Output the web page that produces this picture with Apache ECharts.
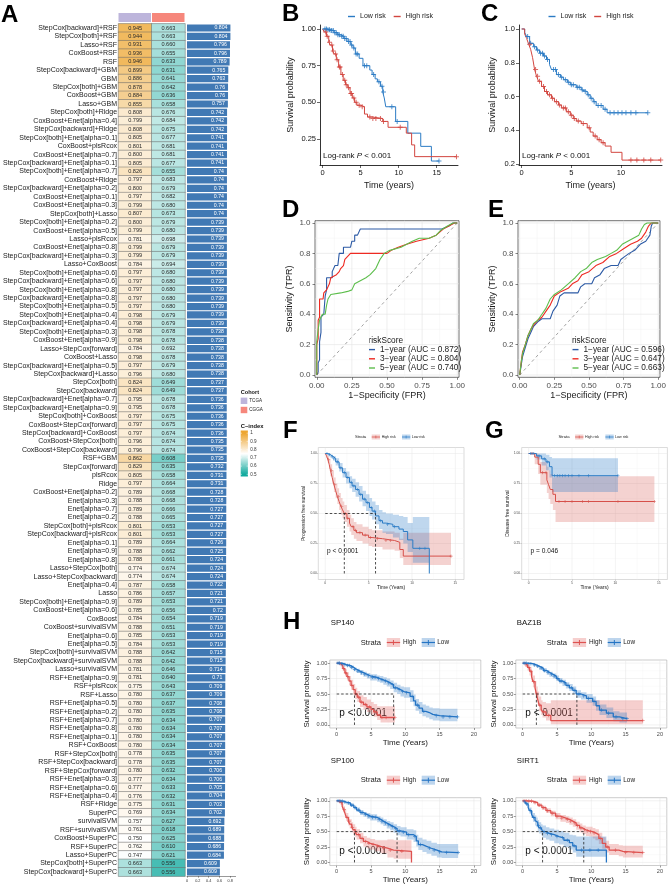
<!DOCTYPE html>
<html><head><meta charset="utf-8">
<script src="https://cdn.jsdelivr.net/npm/echarts@6/dist/echarts.min.js"></script>
<style>html,body{margin:0;padding:0;background:#fff}#c{width:669px;height:885px}</style>
</head><body><div id="c"></div>
<script>
// ---------------- DATA ----------------
const methods = ['StepCox[backward]+RSF','StepCox[both]+RSF','Lasso+RSF','CoxBoost+RSF','RSF','StepCox[backward]+GBM','GBM','StepCox[both]+GBM','CoxBoost+GBM','Lasso+GBM',
'StepCox[both]+Ridge','CoxBoost+Enet[alpha=0.4]','StepCox[backward]+Ridge','StepCox[both]+Enet[alpha=0.1]','CoxBoost+plsRcox','CoxBoost+Enet[alpha=0.7]','StepCox[backward]+Enet[alpha=0.1]','StepCox[both]+Enet[alpha=0.7]','CoxBoost+Ridge','StepCox[backward]+Enet[alpha=0.2]',
'CoxBoost+Enet[alpha=0.1]','CoxBoost+Enet[alpha=0.3]','StepCox[both]+Lasso','StepCox[both]+Enet[alpha=0.2]','CoxBoost+Enet[alpha=0.5]','Lasso+plsRcox','CoxBoost+Enet[alpha=0.8]','StepCox[backward]+Enet[alpha=0.3]','Lasso+CoxBoost','StepCox[both]+Enet[alpha=0.6]',
'StepCox[backward]+Enet[alpha=0.6]','StepCox[both]+Enet[alpha=0.8]','StepCox[backward]+Enet[alpha=0.8]','StepCox[both]+Enet[alpha=0.5]','StepCox[both]+Enet[alpha=0.4]','StepCox[backward]+Enet[alpha=0.4]','StepCox[both]+Enet[alpha=0.3]','CoxBoost+Enet[alpha=0.9]','Lasso+StepCox[forward]','CoxBoost+Lasso',
'StepCox[backward]+Enet[alpha=0.5]','StepCox[backward]+Lasso','StepCox[both]','StepCox[backward]','StepCox[backward]+Enet[alpha=0.7]','StepCox[backward]+Enet[alpha=0.9]','StepCox[both]+CoxBoost','CoxBoost+StepCox[forward]','StepCox[backward]+CoxBoost','CoxBoost+StepCox[both]',
'CoxBoost+StepCox[backward]','RSF+GBM','StepCox[forward]','plsRcox','Ridge','CoxBoost+Enet[alpha=0.2]','Enet[alpha=0.3]','Enet[alpha=0.7]','Enet[alpha=0.2]','StepCox[both]+plsRcox',
'StepCox[backward]+plsRcox','Enet[alpha=0.1]','Enet[alpha=0.9]','Enet[alpha=0.8]','Lasso+StepCox[both]','Lasso+StepCox[backward]','Enet[alpha=0.4]','Lasso','StepCox[both]+Enet[alpha=0.9]','CoxBoost+Enet[alpha=0.6]',
'CoxBoost','CoxBoost+survivalSVM','Enet[alpha=0.6]','Enet[alpha=0.5]','StepCox[both]+survivalSVM','StepCox[backward]+survivalSVM','Lasso+survivalSVM','RSF+Enet[alpha=0.9]','RSF+plsRcox','RSF+Lasso',
'RSF+Enet[alpha=0.5]','RSF+Enet[alpha=0.2]','RSF+Enet[alpha=0.7]','RSF+Enet[alpha=0.8]','RSF+Enet[alpha=0.1]','RSF+CoxBoost','RSF+StepCox[both]','RSF+StepCox[backward]','RSF+StepCox[forward]','RSF+Enet[alpha=0.3]',
'RSF+Enet[alpha=0.6]','RSF+Enet[alpha=0.4]','RSF+Ridge','SuperPC','survivalSVM','RSF+survivalSVM','CoxBoost+SuperPC','RSF+SuperPC','Lasso+SuperPC','StepCox[both]+SuperPC',
'StepCox[backward]+SuperPC'];
const tcga = [0.945,0.944,0.931,0.936,0.946,0.899,0.886,0.878,0.884,0.855,
0.808,0.799,0.808,0.805,0.801,0.800,0.805,0.826,0.797,0.800,
0.797,0.799,0.807,0.800,0.799,0.781,0.799,0.799,0.784,0.797,
0.797,0.797,0.797,0.797,0.798,0.798,0.798,0.798,0.784,0.798,
0.797,0.796,0.824,0.824,0.795,0.795,0.797,0.797,0.797,0.796,
0.796,0.862,0.829,0.805,0.797,0.789,0.788,0.789,0.788,0.801,
0.801,0.789,0.788,0.788,0.774,0.774,0.787,0.786,0.789,0.785,
0.784,0.788,0.785,0.784,0.788,0.788,0.781,0.781,0.775,0.780,
0.780,0.780,0.780,0.780,0.780,0.780,0.778,0.778,0.780,0.777,
0.777,0.776,0.775,0.769,0.757,0.761,0.750,0.762,0.747,0.663,
0.663];
const cgga = [0.663,0.663,0.660,0.655,0.633,0.631,0.641,0.642,0.636,0.658,
0.676,0.684,0.675,0.677,0.681,0.681,0.677,0.655,0.683,0.679,
0.682,0.680,0.673,0.679,0.680,0.698,0.679,0.679,0.694,0.680,
0.680,0.680,0.680,0.680,0.679,0.679,0.678,0.678,0.692,0.678,
0.679,0.680,0.649,0.649,0.678,0.678,0.675,0.675,0.674,0.674,
0.674,0.608,0.635,0.658,0.664,0.668,0.668,0.666,0.665,0.653,
0.653,0.664,0.662,0.661,0.674,0.674,0.658,0.657,0.653,0.656,
0.654,0.651,0.653,0.653,0.642,0.642,0.646,0.640,0.643,0.637,
0.637,0.635,0.634,0.634,0.634,0.634,0.635,0.635,0.632,0.634,
0.633,0.632,0.631,0.634,0.627,0.618,0.625,0.610,0.621,0.556,
0.556];
const meanC = [0.804,0.804,0.796,0.796,0.789,0.765,0.763,0.76,0.76,0.757,
0.742,0.742,0.742,0.741,0.741,0.741,0.741,0.74,0.74,0.74,
0.74,0.74,0.74,0.739,0.739,0.739,0.739,0.739,0.739,0.739,
0.739,0.739,0.739,0.739,0.739,0.739,0.738,0.738,0.738,0.738,
0.738,0.738,0.737,0.737,0.736,0.736,0.736,0.736,0.736,0.735,
0.735,0.735,0.732,0.731,0.731,0.728,0.728,0.727,0.727,0.727,
0.727,0.726,0.725,0.724,0.724,0.724,0.722,0.721,0.721,0.72,
0.719,0.719,0.719,0.719,0.715,0.715,0.714,0.71,0.709,0.709,
0.708,0.708,0.707,0.707,0.707,0.707,0.707,0.707,0.706,0.706,
0.705,0.704,0.703,0.702,0.692,0.689,0.688,0.686,0.684,0.609,
0.609];
const cohorts = ['TCGA','CGGA'];
const cIndexTicks = [1,0.9,0.8,0.7,0.6,0.5];

// Panel B (TCGA KM)
const bLow = [[0,1],[0.6,0.995],[1.0,0.99],[1.5,0.975],[2.0,0.96],[2.4,0.95],[2.8,0.935],[3.2,0.915],[3.7,0.89],[4.0,0.87],[4.3,0.83],[4.8,0.80],[5.3,0.75],[6.2,0.72],[6.5,0.69],[6.9,0.66],[7.2,0.64],[7.6,0.61],[7.9,0.57],[8.1,0.53],[8.3,0.47],[9.6,0.37],[11.2,0.29],[12.9,0.20],[14.3,0.10],[15.3,0.10]];
const bHigh = [[0,1],[0.2,0.98],[0.5,0.95],[0.8,0.91],[1.0,0.89],[1.3,0.85],[1.5,0.83],[1.8,0.79],[2.1,0.74],[2.4,0.69],[2.7,0.65],[3.0,0.62],[3.3,0.60],[3.6,0.56],[3.9,0.53],[4.2,0.50],[4.5,0.48],[5.0,0.47],[5.5,0.42],[5.9,0.40],[6.5,0.39],[7.9,0.37],[8.6,0.33],[11.0,0.29],[11.7,0.21],[12.1,0.13],[17.6,0.13]];
const bLowCens = [0.3,0.5,0.7,0.9,1.1,1.2,1.4,1.6,1.8,2.0,2.2,2.5,2.7,2.9,3.1,3.4,3.6,3.8,4.1,4.4,4.6,5.5,5.8,6.7,7.4,7.8,8.0,9.1,9.8,15.3];
const bHighCens = [0.4,0.6,0.9,1.2,1.4,1.7,1.9,2.2,2.3,2.6,2.9,3.1,3.4,3.7,3.8,4.1,4.4,4.8,5.2,6.2,6.6,7.0,7.6,8.0,10.2,17.6];
// Panel C (CGGA KM)
const cLow = [[0,1],[0.3,0.98],[0.5,0.955],[0.8,0.915],[1.2,0.895],[1.5,0.875],[1.8,0.857],[2.2,0.84],[2.5,0.82],[2.8,0.79],[3.0,0.76],[3.5,0.73],[3.9,0.715],[4.2,0.70],[4.6,0.685],[4.9,0.67],[5.5,0.655],[6.0,0.64],[6.2,0.63],[6.6,0.61],[6.9,0.59],[7.2,0.57],[7.5,0.547],[8.2,0.525],[8.6,0.504],[12.7,0.504]];
const cHigh = [[0,1],[0.3,0.97],[0.5,0.944],[0.7,0.91],[0.9,0.88],[1.1,0.83],[1.3,0.76],[1.5,0.72],[1.7,0.69],[2.0,0.66],[2.3,0.63],[2.6,0.61],[3.0,0.59],[3.3,0.57],[3.7,0.55],[4.0,0.533],[4.5,0.51],[4.9,0.49],[5.2,0.47],[5.5,0.455],[6.0,0.44],[6.6,0.415],[6.9,0.39],[7.2,0.366],[7.6,0.345],[8.0,0.327],[8.4,0.307],[9.0,0.27],[10.1,0.224],[14.0,0.224]];
const cLowCens = [0.6,0.9,1.3,1.6,1.9,2.1,2.3,2.6,3.2,3.4,3.7,4.0,4.4,4.7,5.0,5.2,5.6,5.8,6.1,6.4,6.7,7.0,7.3,7.7,8.0,8.4,8.9,9.3,9.7,10.1,10.5,11.0,11.5,12.7];
const cHighCens = [0.8,1.4,1.6,1.8,2.2,2.5,2.8,3.1,3.5,3.8,4.2,4.4,4.7,5.0,5.3,5.7,6.2,6.8,7.4,7.8,8.2,11.0,11.6,12.3,13.0,14.0];
const kmTicksB = [0,5,10,15], survTicksB = [0.25,0.5,0.75,1];
const kmTicksC = [0,5,10], survTicksC = [0.2,0.4,0.6,0.8,1];

// Panels D, E (ROC)
const rocNamesD = ['1\u2212year (AUC = 0.872)','3\u2212year (AUC = 0.804)','5\u2212year (AUC = 0.740)'];
const rocNamesE = ['1\u2212year (AUC = 0.596)','3\u2212year (AUC = 0.647)','5\u2212year (AUC = 0.663)'];
const d1 = [[0,0],[0.01,0.02],[0.01,0.08],[0.02,0.10],[0.02,0.22],[0.03,0.28],[0.03,0.38],[0.05,0.40],[0.06,0.40],[0.06,0.52],[0.07,0.56],[0.07,0.64],[0.11,0.64],[0.11,0.68],[0.13,0.72],[0.15,0.72],[0.16,0.80],[0.19,0.80],[0.19,0.84],[0.24,0.84],[0.25,0.88],[0.27,0.88],[0.27,0.92],[0.29,0.92],[0.31,0.96],[0.89,0.96],[0.94,0.98],[0.97,1],[1,1]];
const d3 = [[0,0],[0,0.2],[0.01,0.24],[0.01,0.36],[0.02,0.38],[0.02,0.50],[0.045,0.50],[0.05,0.54],[0.07,0.56],[0.09,0.60],[0.10,0.64],[0.14,0.66],[0.16,0.68],[0.17,0.70],[0.19,0.72],[0.20,0.76],[0.22,0.78],[0.24,0.80],[0.50,0.80],[0.53,0.82],[0.58,0.84],[0.64,0.86],[0.71,0.88],[0.80,0.90],[0.85,0.92],[0.90,0.96],[0.94,0.98],[0.98,1],[1,1]];
const d5 = [[0,0],[0,0.22],[0.01,0.30],[0.02,0.36],[0.04,0.40],[0.06,0.40],[0.07,0.46],[0.08,0.50],[0.10,0.53],[0.17,0.54],[0.22,0.55],[0.25,0.56],[0.27,0.60],[0.31,0.62],[0.35,0.64],[0.38,0.66],[0.42,0.70],[0.45,0.76],[0.48,0.80],[0.52,0.82],[0.60,0.84],[0.64,0.86],[0.68,0.88],[0.73,0.90],[0.80,0.90],[0.85,0.92],[0.88,0.95],[0.93,0.98],[0.97,1],[1,1]];
const e1 = [[0,0],[0.01,0.06],[0.02,0.12],[0.04,0.18],[0.06,0.24],[0.08,0.28],[0.10,0.32],[0.13,0.35],[0.16,0.37],[0.22,0.37],[0.24,0.42],[0.27,0.46],[0.29,0.52],[0.32,0.54],[0.42,0.54],[0.44,0.58],[0.47,0.60],[0.52,0.60],[0.54,0.64],[0.58,0.66],[0.61,0.70],[0.66,0.72],[0.71,0.72],[0.73,0.76],[0.76,0.78],[0.79,0.80],[0.83,0.82],[0.87,0.86],[0.91,0.88],[0.94,0.92],[0.95,0.98],[0.96,1],[1,1]];
const e3 = [[0,0],[0.01,0.08],[0.02,0.15],[0.04,0.2],[0.06,0.26],[0.08,0.30],[0.10,0.33],[0.13,0.36],[0.16,0.38],[0.19,0.42],[0.22,0.46],[0.25,0.52],[0.30,0.55],[0.35,0.57],[0.38,0.60],[0.42,0.62],[0.45,0.66],[0.50,0.68],[0.55,0.72],[0.60,0.74],[0.65,0.78],[0.70,0.80],[0.75,0.83],[0.80,0.86],[0.85,0.88],[0.88,0.90],[0.91,0.94],[0.93,0.98],[0.95,1],[1,1]];
const e5 = [[0,0],[0.01,0.08],[0.02,0.14],[0.04,0.2],[0.06,0.26],[0.08,0.30],[0.10,0.34],[0.13,0.36],[0.16,0.40],[0.19,0.44],[0.22,0.50],[0.25,0.53],[0.30,0.56],[0.35,0.60],[0.40,0.64],[0.44,0.68],[0.48,0.70],[0.52,0.74],[0.56,0.76],[0.62,0.78],[0.66,0.80],[0.70,0.82],[0.74,0.86],[0.78,0.88],[0.82,0.90],[0.86,0.92],[0.88,0.96],[0.90,0.99],[0.92,1],[1,1]];
const rocTicksX = [0,0.25,0.5,0.75,1], rocTicksY = [0,0.2,0.4,0.6,0.8,1];

// Panel F (PFS) and G (DFS): [t, s] and CI [t, lower, upper]
const fHigh = [[0,1],[0.15,0.98],[0.3,0.95],[0.45,0.91],[0.6,0.86],[0.8,0.80],[1.0,0.74],[1.2,0.69],[1.4,0.64],[1.6,0.60],[1.8,0.56],[2.0,0.53],[2.2,0.50],[2.5,0.46],[2.8,0.42],[3.0,0.39],[3.3,0.36],[3.6,0.34],[4.3,0.32],[5.0,0.30],[5.4,0.29],[6.6,0.275],[8.0,0.26],[8.6,0.20],[9.0,0.145],[14.5,0.145]];
const fHighCI = [[0,1,1],[0.15,0.96,1],[0.3,0.92,0.98],[0.45,0.87,0.95],[0.6,0.81,0.91],[0.8,0.75,0.86],[1.0,0.68,0.80],[1.2,0.63,0.75],[1.4,0.58,0.71],[1.6,0.53,0.67],[1.8,0.49,0.63],[2.0,0.46,0.60],[2.2,0.43,0.57],[2.5,0.39,0.53],[2.8,0.35,0.49],[3.0,0.32,0.46],[3.3,0.29,0.43],[3.6,0.27,0.41],[4.3,0.25,0.39],[5.0,0.23,0.37],[5.4,0.22,0.36],[6.6,0.20,0.35],[8.0,0.19,0.34],[8.6,0.13,0.29],[9.0,0.07,0.34],[14.5,0.07,0.34]];
const fLow = [[0,1],[0.3,0.99],[0.6,0.975],[0.9,0.96],[1.2,0.93],[1.6,0.88],[2.0,0.84],[2.4,0.80],[2.8,0.76],[3.1,0.73],[3.5,0.70],[3.9,0.66],[4.3,0.62],[4.7,0.59],[5.1,0.55],[5.4,0.52],[5.8,0.48],[6.2,0.44],[6.6,0.42],[7.0,0.41],[7.8,0.39],[8.5,0.37],[9.0,0.35],[9.5,0.28],[10.1,0.21],[12.0,0.0]];
const fLowCI = [[0,1,1],[0.3,0.98,1],[0.6,0.96,0.99],[0.9,0.94,0.98],[1.2,0.90,0.96],[1.6,0.85,0.92],[2.0,0.80,0.88],[2.4,0.75,0.85],[2.8,0.71,0.81],[3.1,0.68,0.79],[3.5,0.64,0.76],[3.9,0.60,0.73],[4.3,0.56,0.69],[4.7,0.52,0.66],[5.1,0.48,0.63],[5.4,0.45,0.60],[5.8,0.41,0.57],[6.2,0.37,0.53],[6.6,0.34,0.51],[7.0,0.33,0.50],[7.8,0.30,0.49],[8.5,0.28,0.48],[9.0,0.25,0.47],[9.5,0.18,0.42],[10.1,0.09,0.47],[12.0,0.09,0.47]];
const fHighCens = [0.4,0.7,1.1,1.5,1.9,2.3,2.6,3.2,3.5,4.0,4.6,5.2,6.0,7.0,7.5,14.5];
const fLowCens = [0.2,0.5,0.8,1.0,1.4,1.8,2.2,2.6,3.0,3.3,3.7,4.1,4.5,4.9,5.3,5.7,6.4,7.2,8.0,10.9,11.5];
const fMed = [2.2,5.8];
const gHigh = [[0,1],[0.7,0.97],[1.1,0.91],[1.35,0.84],[2.1,0.78],[2.3,0.74],[2.5,0.70],[2.8,0.66],[3.1,0.60],[14.5,0.60]];
const gHighCI = [[0,1,1],[0.7,0.91,1],[1.1,0.83,0.98],[1.35,0.74,0.93],[2.1,0.67,0.89],[2.3,0.62,0.86],[2.5,0.58,0.83],[2.8,0.53,0.80],[3.1,0.43,0.81],[14.5,0.43,0.81]];
const gLow = [[0,1],[0.9,0.98],[1.5,0.955],[2.0,0.93],[2.4,0.89],[2.7,0.815],[10.3,0.815]];
const gLowCI = [[0,1,1],[0.9,0.95,1],[1.5,0.90,1],[2.0,0.86,0.99],[2.4,0.80,0.97],[2.7,0.68,0.96],[10.3,0.68,0.96]];
const gHighCens = [0.3,0.5,1.6,2.0,3.5,4.2,5.0,6.2,6.9,10.3,14.5];
const gLowCens = [0.2,0.4,0.6,1.2,1.8,2.2,3.0,3.3,3.6,3.9,4.2,4.6,5.0,5.8,6.9,10.3];
const fgTicksX = [0,5,10,15], fgTicksY = [0,0.25,0.5,0.75,1];

// Panel H (genes)
const sp140High = [[0,1],[0.3,0.99],[0.6,0.96],[0.9,0.91],[1.2,0.84],[1.5,0.78],[1.8,0.71],[2.1,0.64],[2.4,0.57],[2.7,0.50],[3.0,0.45],[3.4,0.37],[3.9,0.33],[4.4,0.29],[5.0,0.25],[5.4,0.21],[5.9,0.16],[6.4,0.12],[8.5,0.12]];
const sp140HighCI = [[0,1,1],[0.3,0.97,1],[0.6,0.93,0.99],[0.9,0.87,0.95],[1.2,0.79,0.90],[1.5,0.72,0.85],[1.8,0.64,0.79],[2.1,0.57,0.73],[2.4,0.49,0.66],[2.7,0.42,0.60],[3.0,0.37,0.55],[3.4,0.29,0.48],[3.9,0.25,0.45],[4.4,0.21,0.41],[5.0,0.17,0.37],[5.4,0.13,0.34],[5.9,0.08,0.30],[6.4,0.04,0.30],[8.5,0.04,0.30]];
const sp140Low = [[0,1],[0.5,0.99],[1.0,0.975],[1.4,0.96],[2.0,0.93],[2.5,0.90],[2.9,0.87],[3.4,0.845],[3.9,0.82],[4.4,0.795],[4.9,0.77],[5.9,0.75],[6.3,0.73],[6.8,0.71],[7.3,0.68],[7.8,0.65],[8.3,0.60],[8.8,0.57],[9.3,0.54],[9.8,0.52],[10.7,0.46],[11.2,0.39],[11.5,0.32],[12.0,0.27],[12.5,0.22],[13.0,0.20],[13.5,0.17],[14.0,0.15],[15.0,0.13],[17.6,0.13]];
const sp140LowCI = [[0,1,1],[0.5,0.98,1],[1.0,0.96,0.99],[1.4,0.94,0.98],[2.0,0.91,0.96],[2.5,0.87,0.93],[2.9,0.84,0.91],[3.4,0.81,0.89],[3.9,0.78,0.86],[4.4,0.75,0.84],[4.9,0.72,0.82],[5.9,0.70,0.80],[6.3,0.68,0.79],[6.8,0.65,0.77],[7.3,0.62,0.75],[7.8,0.58,0.72],[8.3,0.53,0.68],[8.8,0.50,0.65],[9.3,0.46,0.62],[9.8,0.44,0.61],[10.7,0.37,0.56],[11.2,0.30,0.49],[11.5,0.23,0.42],[12.0,0.18,0.37],[12.5,0.14,0.33],[13.0,0.12,0.31],[13.5,0.09,0.28],[14.0,0.07,0.27],[15.0,0.06,0.26],[17.6,0.06,0.26]];
const sp140HighCens = [0.5,1.0,1.3,1.6,2.2,2.8,3.2,3.6,4.2,4.8,5.6,6.6,7.2,8.5];
const sp140LowCens = [0.2,0.4,0.7,0.9,1.2,1.6,1.9,2.2,2.6,3.1,3.6,4.1,4.6,5.2,5.6,6.1,6.6,7.1,7.6,8.1,8.6,9.1,9.6,10.2,11.0,11.8,12.7,14.5,15.5,16.5,17.6];
const sp140Med = [2.6,8.3];

const bazHigh = [[0,1],[0.4,0.97],[0.7,0.93],[1.0,0.87],[1.3,0.78],[1.5,0.70],[1.8,0.60],[2.0,0.50],[2.2,0.41],[2.4,0.32],[2.7,0.25],[2.9,0.21],[3.4,0.155],[4.1,0.07],[17.5,0.07]];
const bazHighCI = [[0,1,1],[0.4,0.94,1],[0.7,0.88,0.98],[1.0,0.80,0.94],[1.3,0.70,0.87],[1.5,0.61,0.80],[1.8,0.50,0.71],[2.0,0.40,0.62],[2.2,0.31,0.54],[2.4,0.22,0.46],[2.7,0.16,0.40],[2.9,0.12,0.37],[3.4,0.07,0.35],[4.1,0.01,0.40],[17.5,0.01,0.40]];
const bazLow = [[0,1],[0.7,0.99],[1.5,0.97],[2.0,0.95],[2.4,0.92],[3.0,0.88],[3.5,0.85],[3.9,0.82],[4.4,0.79],[4.9,0.75],[5.3,0.71],[5.8,0.68],[6.3,0.64],[6.8,0.60],[7.3,0.56],[7.8,0.50],[8.5,0.47],[9.3,0.43],[10.2,0.38],[10.7,0.31],[11.2,0.24],[12.2,0.19],[13.2,0.13],[14.1,0.10],[15.2,0.10]];
const bazLowCI = [[0,1,1],[0.7,0.98,1],[1.5,0.95,0.99],[2.0,0.93,0.97],[2.4,0.89,0.95],[3.0,0.85,0.92],[3.5,0.81,0.89],[3.9,0.78,0.86],[4.4,0.75,0.83],[4.9,0.71,0.80],[5.3,0.67,0.76],[5.8,0.63,0.73],[6.3,0.59,0.69],[6.8,0.55,0.66],[7.3,0.50,0.62],[7.8,0.44,0.56],[8.5,0.41,0.53],[9.3,0.36,0.50],[10.2,0.31,0.46],[10.7,0.23,0.40],[11.2,0.16,0.33],[12.2,0.11,0.28],[13.2,0.06,0.22],[14.1,0.04,0.20],[15.2,0.04,0.20]];
const bazHighCens = [0.5,0.9,1.2,1.6,2.1,2.5,3.1,3.8,17.5];
const bazLowCens = [0.2,0.5,0.9,1.2,1.7,2.2,2.7,3.2,3.7,4.2,4.6,5.1,5.6,6.1,6.6,7.1,7.6,8.2,8.9,9.6,10.4,11.5,12.5,13.6,14.6,15.2];
const bazMed = [2.0,7.9];

const sp100High = [[0,1],[0.3,0.99],[0.5,0.97],[0.8,0.91],[1.0,0.86],[1.2,0.80],[1.4,0.73],[1.7,0.67],[1.9,0.62],[2.2,0.57],[2.4,0.53],[2.7,0.49],[2.9,0.45],[3.4,0.39],[3.9,0.34],[4.4,0.31],[4.9,0.29],[5.6,0.26],[6.4,0.23],[7.4,0.20],[8.3,0.18],[10.9,0.0]];
const sp100HighCI = [[0,1,1],[0.3,0.97,1],[0.5,0.94,0.99],[0.8,0.87,0.95],[1.0,0.81,0.91],[1.2,0.74,0.86],[1.4,0.67,0.80],[1.7,0.60,0.74],[1.9,0.55,0.70],[2.2,0.49,0.65],[2.4,0.45,0.62],[2.7,0.41,0.58],[2.9,0.37,0.54],[3.4,0.31,0.48],[3.9,0.26,0.43],[4.4,0.23,0.40],[4.9,0.21,0.38],[5.6,0.18,0.36],[6.4,0.15,0.36],[7.4,0.08,0.37],[8.3,0.06,0.36],[10.9,0.06,0.36]];
const sp100Low = [[0,1],[0.5,0.995],[1.0,0.98],[1.4,0.965],[2.0,0.93],[2.5,0.89],[2.9,0.85],[3.4,0.81],[3.9,0.78],[4.4,0.75],[4.9,0.73],[5.9,0.70],[6.4,0.67],[6.8,0.64],[7.3,0.61],[7.8,0.58],[8.3,0.55],[8.8,0.51],[9.3,0.49],[10.2,0.45],[11.2,0.42],[11.6,0.35],[11.9,0.29],[12.5,0.26],[13.1,0.23],[13.8,0.20],[14.6,0.17],[15.3,0.16],[17.7,0.16]];
const sp100LowCI = [[0,1,1],[0.5,0.98,1],[1.0,0.96,0.99],[1.4,0.94,0.98],[2.0,0.90,0.96],[2.5,0.86,0.92],[2.9,0.82,0.89],[3.4,0.77,0.85],[3.9,0.74,0.82],[4.4,0.71,0.80],[4.9,0.68,0.78],[5.9,0.65,0.75],[6.4,0.62,0.73],[6.8,0.59,0.70],[7.3,0.55,0.67],[7.8,0.52,0.65],[8.3,0.48,0.62],[8.8,0.44,0.59],[9.3,0.42,0.57],[10.2,0.37,0.54],[11.2,0.33,0.52],[11.6,0.26,0.45],[11.9,0.20,0.40],[12.5,0.17,0.37],[13.1,0.14,0.35],[13.8,0.11,0.32],[14.6,0.08,0.30],[15.3,0.07,0.30],[17.7,0.07,0.30]];
const sp100HighCens = [0.4,0.7,1.1,1.5,1.8,2.3,2.8,3.2,3.7,4.2,4.7,5.3,6.0,6.8,7.8,9.5];
const sp100LowCens = [0.2,0.5,0.8,1.2,1.7,2.2,2.7,3.2,3.7,4.2,4.7,5.2,5.7,6.2,6.6,7.1,7.6,8.1,8.6,9.1,9.7,10.5,11.4,12.2,13.5,14.2,15.0,16.0,17.7];
const sp100Med = [2.6,8.8];

const sirtHigh = [[0,1],[0.7,0.995],[1.5,0.97],[2.2,0.93],[2.8,0.89],[3.4,0.84],[4.1,0.80],[4.8,0.75],[5.5,0.72],[6.3,0.70],[6.8,0.67],[7.3,0.64],[7.8,0.60],[8.3,0.56],[8.7,0.53],[9.2,0.51],[9.7,0.50],[10.2,0.48],[10.6,0.45],[11.1,0.39],[11.6,0.31],[12.1,0.25],[12.6,0.20],[14.0,0.18],[14.6,0.16],[17.5,0.16]];
const sirtHighCI = [[0,1,1],[0.7,0.98,1],[1.5,0.95,0.99],[2.2,0.90,0.96],[2.8,0.85,0.92],[3.4,0.80,0.88],[4.1,0.75,0.84],[4.8,0.70,0.80],[5.5,0.66,0.77],[6.3,0.64,0.75],[6.8,0.61,0.73],[7.3,0.58,0.70],[7.8,0.53,0.66],[8.3,0.49,0.63],[8.7,0.46,0.60],[9.2,0.43,0.58],[9.7,0.42,0.58],[10.2,0.39,0.56],[10.6,0.36,0.54],[11.1,0.30,0.48],[11.6,0.22,0.41],[12.1,0.16,0.35],[12.6,0.12,0.30],[14.0,0.10,0.28],[14.6,0.08,0.27],[17.5,0.08,0.27]];
const sirtLow = [[0,1],[0.3,0.98],[0.5,0.95],[0.8,0.89],[1.0,0.84],[1.3,0.78],[1.5,0.73],[1.8,0.68],[2.0,0.65],[2.2,0.60],[2.4,0.56],[2.7,0.53],[2.9,0.50],[3.4,0.47],[3.9,0.45],[4.6,0.42],[5.3,0.40],[6.0,0.36],[6.8,0.32],[7.3,0.27],[7.8,0.20],[12.2,0.0]];
const sirtLowCI = [[0,1,1],[0.3,0.96,1],[0.5,0.92,0.98],[0.8,0.85,0.93],[1.0,0.79,0.89],[1.3,0.72,0.84],[1.5,0.66,0.80],[1.8,0.60,0.76],[2.0,0.57,0.73],[2.2,0.51,0.69],[2.4,0.47,0.65],[2.7,0.44,0.62],[2.9,0.40,0.60],[3.4,0.37,0.57],[3.9,0.35,0.55],[4.6,0.31,0.53],[5.3,0.29,0.51],[6.0,0.25,0.48],[6.8,0.21,0.45],[7.3,0.16,0.44],[7.8,0.09,0.42],[12.2,0.09,0.42]];
const sirtHighCens = [0.2,0.5,0.9,1.3,1.8,2.4,3.0,3.6,4.3,5.0,5.7,6.5,7.0,7.6,8.0,8.5,9.0,9.4,9.9,10.4,11.3,12.4,13.5,15.0,16.2,17.5];
const sirtLowCens = [0.3,0.6,1.1,1.6,2.3,2.6,3.1,3.6,4.2,5.0,5.8,6.5,7.5,8.6,9.8,11.0];
const sirtMed = [2.9,8.9];
const hTicksX = [0,5,10,15,20], hTicksY = [0,0.25,0.5,0.75,1];

// ---------------- STYLE / HELPERS ----------------
const FONT = "'Liberation Sans', Arial, Helvetica, sans-serif";
const CROSS = 'path://M4,0H6V4H10V6H6V10H4V6H0V4H4Z';
const heatColors = ['#12AA9E','#FFFFFF','#EDA631'];
const cohortColors = ['#BDB5DB','#F6877C'];

function stepAt(curve, t){ let v = curve[0][1]; for (const p of curve){ if (p[0] <= t) v = p[1]; else break; } return v; }

const grid = [], xAxis = [], yAxis = [], series = [], graphic = [], titles = [];

function txt(text, x, y, size, o){ o = o || {};
  return {type:'text', silent:true, style:{text:text, x:x, y:y, fill:o.color||'#1a1a1a',
    font:(o.weight||'normal')+' '+size+'px '+FONT, textAlign:o.align||'left', textVerticalAlign:o.valign||'middle'}}; }

function gridLineSeries(gi, L){
  return {type:'custom', xAxisIndex:gi, yAxisIndex:gi, data:[[L.xMaj[0], L.yMaj[0]]], silent:true, z:1,
    renderItem:function(params, api){
      const cs = params.coordSys; const ch = [];
      const addX = (v,st)=>{const p = api.coord([v, L.yMaj[0]]); ch.push({type:'line', shape:{x1:p[0],y1:cs.y,x2:p[0],y2:cs.y+cs.height}, style:{stroke:st.color, lineWidth:st.w}});};
      const addY = (v,st)=>{const p = api.coord([L.xMaj[0], v]); ch.push({type:'line', shape:{x1:cs.x,y1:p[1],x2:cs.x+cs.width,y2:p[1]}, style:{stroke:st.color, lineWidth:st.w}});};
      L.xMin.forEach(v=>addX(v,L.min)); L.yMin.forEach(v=>addY(v,L.min));
      L.xMaj.forEach(v=>addX(v,L.maj)); L.yMaj.forEach(v=>addY(v,L.maj));
      return {type:'group', children:ch};
    }};
}

function panel(c){
  const gi = grid.length;
  grid.push({left:c.left, top:c.top, width:c.width, height:c.height, show:!!c.border, borderColor:c.border||'#000', borderWidth:c.bw||0.7, backgroundColor:'transparent'});
  const mk = (t)=>({
    type:'value', gridIndex:gi, min:t.min, max:t.max,
    axisLine:{show:!!c.axisLine, onZero:false, lineStyle:{color:'#000', width:0.8}},
    axisTick:{show:true, customValues:t.ticks, length:c.tickLen, lineStyle:{color:c.tickColor, width:0.6}},
    axisLabel:{show:true, customValues:t.ticks, formatter:t.fmt, fontSize:c.tickFont, color:c.labelColor, margin:t.margin, fontFamily:FONT},
    splitLine:{show:false},
    name:t.name, nameLocation:'middle', nameGap:t.gap, nameTextStyle:{fontSize:c.nameFont, color:'#1a1a1a', fontFamily:FONT}
  });
  xAxis.push(mk(c.x)); yAxis.push(mk(c.y));
  if (c.lines) series.push(gridLineSeries(gi, c.lines));
  return gi;
}
function km(name, data, color, gi, w){ return {type:'line', name:name, step:'end', data:data, xAxisIndex:gi, yAxisIndex:gi, symbol:'none', showSymbol:false, lineStyle:{color:color, width:w}, itemStyle:{color:color}, z:3, silent:true}; }
function cens(curve, times, color, gi, size){ return {type:'scatter', data:times.map(t=>[t, stepAt(curve,t)]), xAxisIndex:gi, yAxisIndex:gi, symbol:CROSS, symbolSize:size, itemStyle:{color:color}, z:4, silent:true}; }
function band(ci, color, gi){
  return {type:'custom', xAxisIndex:gi, yAxisIndex:gi, data:[[ci[0][0], ci[0][2]]], silent:true, z:2,
    renderItem:function(params, api){
      const up = [], lo = [];
      for (let i=0;i<ci.length;i++){
        const t0 = ci[i][0], t1 = i<ci.length-1 ? ci[i+1][0] : ci[i][0];
        up.push(api.coord([t0, ci[i][2]]), api.coord([t1, ci[i][2]]));
        lo.push(api.coord([t0, ci[i][1]]), api.coord([t1, ci[i][1]]));
      }
      return {type:'polygon', shape:{points:up.concat(lo.reverse())}, style:{fill:color}};
    }};
}
function medLines(meds, gi){
  const out = [];
  const st = {color:'#222', width:0.8, type:[2.5,2]};
  out.push({type:'line', data:[[0,0.5],[Math.max.apply(null,meds),0.5]], xAxisIndex:gi, yAxisIndex:gi, symbol:'none', lineStyle:st, z:5, silent:true});
  meds.forEach(m=>out.push({type:'line', data:[[m,0],[m,0.5]], xAxisIndex:gi, yAxisIndex:gi, symbol:'none', lineStyle:st, z:5, silent:true}));
  return out;
}

// ---------------- PANEL A ----------------
grid.push({left:118, top:23.8, width:67, height:852.4});
xAxis.push({type:'category', gridIndex:0, data:cohorts, show:false});
yAxis.push({type:'category', gridIndex:0, data:methods, inverse:true, axisLine:{show:false}, axisTick:{show:false},
  axisLabel:{interval:0, fontSize:7, color:'#1a1a1a', margin:1.5, fontFamily:FONT}});
const heatData = [];
methods.forEach((m,i)=>{ heatData.push([0,i,tcga[i]]); heatData.push([1,i,cgga[i]]); });
series.push({type:'heatmap', xAxisIndex:0, yAxisIndex:0, data:heatData, itemStyle:{borderColor:'#6a6a6a', borderWidth:0.5},
  label:{show:true, fontSize:5.6, color:'#2a2a2a', fontFamily:FONT, formatter:p=>p.value[2].toFixed(3)}, emphasis:{disabled:true}});

grid.push({left:118, top:13, width:67, height:9});
xAxis.push({type:'category', gridIndex:1, data:cohorts, show:false});
yAxis.push({type:'value', gridIndex:1, min:0, max:1, show:false});
series.push({type:'bar', xAxisIndex:1, yAxisIndex:1, barWidth:32.5, silent:true,
  data:cohorts.map((c,i)=>({value:1, itemStyle:{color:cohortColors[i]}}))});

grid.push({left:187, top:23.8, width:48.6, height:852.4});
xAxis.push({type:'value', gridIndex:2, min:0, max:0.9, interval:0.2,
  axisLine:{show:true, onZero:false, lineStyle:{color:'#333', width:0.5}}, axisTick:{show:true, length:1.5, lineStyle:{color:'#333', width:0.5}},
  axisLabel:{fontSize:3.8, color:'#333', margin:2.5, showMaxLabel:false, fontFamily:FONT, formatter:v=>String(v)}, splitLine:{show:false}});
yAxis.push({type:'category', gridIndex:2, data:methods, inverse:true, show:false});
series.push({type:'bar', xAxisIndex:2, yAxisIndex:2, data:meanC, barWidth:7.2, silent:true, itemStyle:{color:'#4179B4'},
  label:{show:true, position:'insideRight', distance:3, color:'#fff', fontSize:5.2, fontFamily:FONT, formatter:'{c}'}});

// ---------------- PANEL B / C ----------------
const BLUE = '#2B7BC4', RED = '#D2453F';
const gB = panel({left:320, top:25, width:138, height:140, axisLine:true, tickLen:3, tickColor:'#000', tickFont:7.5, labelColor:'#111', nameFont:9,
  x:{min:-0.35, max:17.8, ticks:kmTicksB, fmt:v=>String(v), margin:4, name:'Time (years)', gap:16},
  y:{min:0.073, max:1.027, ticks:survTicksB, fmt:v=>v.toFixed(2), margin:4, name:'Survival probability', gap:25}});
series.push(km('Low risk', bLow, BLUE, gB, 1), km('High risk', bHigh, RED, gB, 1),
  cens(bLow, bLowCens, BLUE, gB, 5), cens(bHigh, bHighCens, RED, gB, 5));
const gC = panel({left:519, top:25, width:143, height:140, axisLine:true, tickLen:3, tickColor:'#000', tickFont:7.5, labelColor:'#111', nameFont:9,
  x:{min:-0.27, max:14.13, ticks:kmTicksC, fmt:v=>String(v), margin:4, name:'Time (years)', gap:16},
  y:{min:0.195, max:1.0235, ticks:survTicksC, fmt:v=>v.toFixed(1), margin:4, name:'Survival probability', gap:21.5}});
series.push(km('Low risk', cLow, BLUE, gC, 1), km('High risk', cHigh, RED, gC, 1),
  cens(cLow, cLowCens, BLUE, gC, 5), cens(cHigh, cHighCens, RED, gC, 5));

// ---------------- PANEL D / E ----------------
const ROCC = ['#2C5AA5','#EE2A22','#5DBE4C'];
const rocLines = {xMaj:rocTicksX, xMin:[0.125,0.375,0.625,0.875], yMaj:rocTicksY, yMin:[0.1,0.3,0.5,0.7,0.9], maj:{color:'#E2E2E2', w:0.6}, min:{color:'#F1F1F1', w:0.4}};
function rocPanel(left, width, curves, names){
  const g = panel({left:left, top:220.7, width:width, height:156.6, border:'#333', bw:0.7, tickLen:2.5, tickColor:'#333', tickFont:8, labelColor:'#4D4D4D', nameFont:9,
    x:{min:-0.0125, max:1.0125, ticks:rocTicksX, fmt:v=>v.toFixed(2), margin:4, name:'1\u2212Specificity (FPR)', gap:13.5},
    y:{min:-0.015, max:1.015, ticks:rocTicksY, fmt:v=>v.toFixed(1), margin:4.5, name:'Sensitivity (TPR)', gap:21},
    lines:rocLines});
  series.push({type:'line', data:[[0,0],[1,1]], xAxisIndex:g, yAxisIndex:g, symbol:'none', silent:true, z:2, lineStyle:{color:'#8a8a8a', width:0.8, type:[3,3]}});
  curves.forEach((d,i)=>series.push({type:'line', name:names[i], data:d, xAxisIndex:g, yAxisIndex:g, symbol:'none', silent:true, z:3, lineStyle:{color:ROCC[i], width:1.1}, itemStyle:{color:ROCC[i]}}));
  return g;
}
rocPanel(315, 144, [d1,d3,d5], rocNamesD);
rocPanel(518, 145, [e1,e3,e5], rocNamesE);

// ---------------- PANEL F / G ----------------
const FRED = '#D6504A', FBLUE = '#2C7CC6', FREDA = 'rgba(214,80,74,0.26)', FBLUEA = 'rgba(44,124,198,0.30)';
const fgLines = {xMaj:fgTicksX, xMin:[2.5,7.5,12.5], yMaj:fgTicksY, yMin:[0.125,0.375,0.625,0.875], maj:{color:'#E6E6E6', w:0.5}, min:{color:'#F3F3F3', w:0.35}};
function fgPanel(left, yname, hi, hiCI, lo, loCI, hiC, loC){
  const g = panel({left:left, top:447.5, width:145.7, height:132, border:'#C4C4C4', bw:0.6, tickLen:1.2, tickColor:'#9a9a9a', tickFont:3.3, labelColor:'#4D4D4D', nameFont:5,
    x:{min:-0.8, max:16, ticks:fgTicksX, fmt:v=>String(v), margin:2, name:'Time (Years)', gap:6},
    y:{min:-0.05, max:1.05, ticks:fgTicksY, fmt:v=>v.toFixed(2), margin:1.5, name:yname, gap:12},
    lines:fgLines});
  series.push(band(hiCI, FREDA, g), band(loCI, FBLUEA, g), km('fh', hi, FRED, g, 1), km('fl', lo, FBLUE, g, 1),
    cens(hi, hiC, FRED, g, 3.2), cens(lo, loC, FBLUE, g, 3.2));
  return g;
}
const gF = fgPanel(318.3, 'Progression free survival', fHigh, fHighCI, fLow, fLowCI, fHighCens, fLowCens);
series.push.apply(series, medLines(fMed, gF));
fgPanel(521.7, 'Disease free survival', gHigh, gHighCI, gLow, gLowCI, gHighCens, gLowCens);

// ---------------- PANEL H ----------------
const HRED = '#DE5250', HBLUE = '#2474C4', HREDA = 'rgba(222,82,80,0.28)', HBLUEA = 'rgba(36,116,196,0.30)';
const hLines = {xMaj:hTicksX, xMin:[2.5,7.5,12.5,17.5], yMaj:hTicksY, yMin:[0.125,0.375,0.625,0.875], maj:{color:'#E4E4E4', w:0.5}, min:{color:'#F2F2F2', w:0.35}};
const hCfg = [
  {gene:'SP140', left:329.8, top:660, hi:sp140High, hiCI:sp140HighCI, lo:sp140Low, loCI:sp140LowCI, hiC:sp140HighCens, loC:sp140LowCens, med:sp140Med, yGap:19},
  {gene:'BAZ1B', left:515.8, top:660, hi:bazHigh, hiCI:bazHighCI, lo:bazLow, loCI:bazLowCI, hiC:bazHighCens, loC:bazLowCens, med:bazMed, yGap:18},
  {gene:'SP100', left:329.8, top:797.7, hi:sp100High, hiCI:sp100HighCI, lo:sp100Low, loCI:sp100LowCI, hiC:sp100HighCens, loC:sp100LowCens, med:sp100Med, yGap:19},
  {gene:'SIRT1', left:515.8, top:797.7, hi:sirtHigh, hiCI:sirtHighCI, lo:sirtLow, loCI:sirtLowCI, hiC:sirtHighCens, loC:sirtLowCens, med:sirtMed, yGap:18}
];
function strataKey(x, y, w, h, fill, stroke, lw){
  return [
    {type:'rect', silent:true, shape:{x:x, y:y-h/2, width:w, height:h}, style:{fill:fill}},
    {type:'line', silent:true, shape:{x1:x, y1:y, x2:x+w, y2:y}, style:{stroke:stroke, lineWidth:lw}},
    {type:'line', silent:true, shape:{x1:x+w/2, y1:y-h*0.28, x2:x+w/2, y2:y+h*0.28}, style:{stroke:stroke, lineWidth:lw*0.8}}
  ];
}
hCfg.forEach(c=>{
  const g = panel({left:c.left, top:c.top, width:151, height:68, border:'#AAAAAA', bw:0.6, tickLen:2, tickColor:'#555', tickFont:5.6, labelColor:'#4D4D4D', nameFont:8,
    x:{min:-1, max:21, ticks:hTicksX, fmt:v=>String(v), margin:3, name:'Time (Years)', gap:10.5},
    y:{min:-0.05, max:1.05, ticks:hTicksY, fmt:v=>v.toFixed(2), margin:2.5, name:'Survival probability', gap:c.yGap},
    lines:hLines});
  series.push(band(c.hiCI, HREDA, g), band(c.loCI, HBLUEA, g), km(c.gene+' High', c.hi, HRED, g, 1.3), km(c.gene+' Low', c.lo, HBLUE, g, 1.3),
    cens(c.hi, c.hiC, HRED, g, 3.6), cens(c.lo, c.loC, HBLUE, g, 3.6));
  series.push.apply(series, medLines(c.med, g));
  graphic.push(txt(c.gene, c.left+1, c.top-37, 7.8, {color:'#111'}));
  const ly = c.top - 17.5;
  graphic.push(txt('Strata', c.left+31, ly, 7.6, {color:'#1a1a1a'}));
  graphic.push.apply(graphic, strataKey(c.left+57, ly, 13.3, 9, HREDA, HRED, 1.2));
  graphic.push(txt('High', c.left+73.2, ly, 6.4, {color:'#1a1a1a'}));
  graphic.push.apply(graphic, strataKey(c.left+91.9, ly, 13.3, 9, HBLUEA, HBLUE, 1.2));
  graphic.push(txt('Low', c.left+107.5, ly, 6.4, {color:'#1a1a1a'}));
  graphic.push(txt('p < 0.0001', c.left+9.5, c.top+53.5, 10, {color:'#111'}));
});

// F / G legends and p-values
[[318.3,'p < 0.0001'],[521.7,'p = 0.046']].forEach(([L, p])=>{
  graphic.push(txt('Strata', L+36.7, 437, 4.2, {color:'#1a1a1a'}));
  graphic.push.apply(graphic, strataKey(L+53.4, 437, 8.3, 5, FREDA, FRED, 0.8));
  graphic.push(txt('High risk', L+63.4, 437, 3.6, {color:'#1a1a1a'}));
  graphic.push.apply(graphic, strataKey(L+83.7, 437, 8.3, 5, FBLUEA, FBLUE, 0.8));
  graphic.push(txt('Low risk', L+93.4, 437, 3.6, {color:'#1a1a1a'}));
  graphic.push(txt(p, L+8.8, 551, 6.6, {color:'#111'}));
});

// ROC legend titles
graphic.push(txt('riskScore', 368.5, 340.5, 8.3, {color:'#111'}));
graphic.push(txt('riskScore', 572, 340.5, 8.3, {color:'#111'}));

// Panel letters
[['A',1,15],['B',282,14],['C',481,14],['D',282,210],['E',488,210],['F',283,431],['G',485,431],['H',283,622]].forEach(l=>{
  graphic.push(txt(l[0], l[1], l[2], 24, {weight:'bold', color:'#000'}));
});

// Cohort legend
graphic.push(txt('Cohort', 240.7, 392, 5.6, {weight:'bold', color:'#111'}));
cohorts.forEach((c,i)=>{
  graphic.push({type:'rect', silent:true, shape:{x:240.7, y:397.6+i*9.2, width:6.6, height:6.4}, style:{fill:cohortColors[i]}});
  graphic.push(txt(c, 249.3, 400.8+i*9.2, 4.6, {color:'#222'}));
});
// C-index legend
graphic.push(txt('C\u2212index', 240.7, 426.5, 5.8, {weight:'bold', color:'#111'}));
const cyOf = v => 474.3 - (v-0.5)*82.2;
const gTop = 430.5, gBot = 476.5, vTop = 0.5 + (474.3-gTop)/82.2, vBot = 0.5 + (474.3-gBot)/82.2;
const off = v => (vTop - v)/(vTop - vBot);
graphic.push({type:'rect', silent:true, shape:{x:240.7, y:gTop, width:7.2, height:gBot-gTop},
  style:{fill:{type:'linear', x:0, y:0, x2:0, y2:1, colorStops:[
    {offset:0, color:heatColors[2]}, {offset:off(1.0), color:heatColors[2]}, {offset:off(0.75), color:heatColors[1]},
    {offset:off(0.5), color:heatColors[0]}, {offset:1, color:heatColors[0]}]}}});
cIndexTicks.forEach(v=>{
  graphic.push({type:'line', silent:true, shape:{x1:240.7, y1:cyOf(v), x2:242, y2:cyOf(v)}, style:{stroke:'#fff', lineWidth:0.5}});
  graphic.push({type:'line', silent:true, shape:{x1:246.6, y1:cyOf(v), x2:247.9, y2:cyOf(v)}, style:{stroke:'#fff', lineWidth:0.5}});
  graphic.push(txt(String(v), 250.2, cyOf(v), 4.6, {color:'#333'}));
});

// Log-rank texts (rich)
const richLR = {a:{fontSize:8, fontFamily:FONT, fontWeight:'normal', color:'#111'}, b:{fontSize:8, fontFamily:FONT, fontWeight:'normal', fontStyle:'italic', color:'#111'}};
titles.push({text:'{a|Log-rank }{b|P}{a| < 0.001}', left:323, top:151.5, padding:0, textStyle:{fontWeight:'normal', fontSize:8, rich:richLR}});
titles.push({text:'{a|Log-rank }{b|P}{a| < 0.001}', left:522, top:151.5, padding:0, textStyle:{fontWeight:'normal', fontSize:8, rich:richLR}});

const legendText = {fontSize:7, color:'#222', fontFamily:FONT};
const rocLegendText = {fontSize:8.3, color:'#1a1a1a', fontFamily:FONT};
const option = {
  animation:false,
  title:titles,
  grid:grid, xAxis:xAxis, yAxis:yAxis, series:series, graphic:graphic,
  visualMap:{show:false, type:'continuous', seriesIndex:0, dimension:2, min:0.5, max:1, inRange:{color:heatColors}},
  legend:[
    {data:['Low risk','High risk'], icon:'rect', left:348, top:13, padding:0, itemWidth:7, itemHeight:1.4, itemGap:8, textStyle:legendText, selectedMode:false},
    {data:['Low risk','High risk'], icon:'rect', left:548.5, top:13, padding:0, itemWidth:7, itemHeight:1.4, itemGap:8, textStyle:legendText, selectedMode:false},
    {data:rocNamesD, icon:'rect', orient:'vertical', align:'left', left:369, top:345.6, padding:0, itemWidth:6, itemHeight:1.4, itemGap:1.2, selectedMode:false, textStyle:rocLegendText},
    {data:rocNamesE, icon:'rect', orient:'vertical', align:'left', left:572.5, top:345.6, padding:0, itemWidth:6, itemHeight:1.4, itemGap:1.2, selectedMode:false, textStyle:rocLegendText}
  ]
};
const chart = echarts.init(document.getElementById('c'), null, {renderer:'canvas'});
chart.setOption(option);
</script>
</body></html>
